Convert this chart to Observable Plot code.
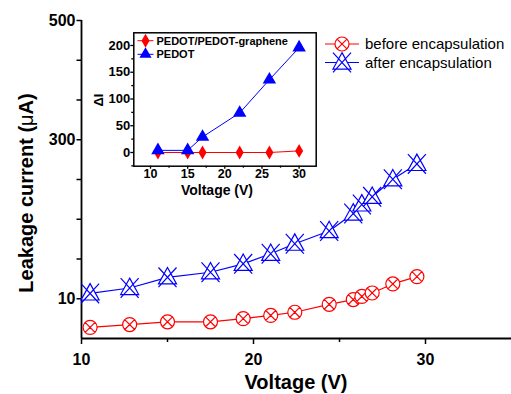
<!DOCTYPE html>
<html><head><meta charset="utf-8">
<script src="https://cdn.jsdelivr.net/npm/d3@7"></script>
<script src="https://cdn.jsdelivr.net/npm/@observablehq/plot@0.6"></script>
<style>
body{margin:0;background:#fff;}
#wrap{position:relative;width:511px;height:394px;font-family:"Liberation Sans",Arial,sans-serif;}
#wrap svg{overflow:visible;}
#inset{position:absolute;left:90px;top:25px;}
#main{position:absolute;left:0;top:0;}
</style></head><body><div id="wrap"><div id="main"></div><div id="inset"></div></div>
<script>
// ---- main chart data ----
const voltage = [10.5, 12.8, 15.0, 17.5, 19.4, 21.0, 22.4, 24.4, 25.8, 26.3, 26.9, 28.1, 29.5];
const beforeEnc = [6.4, 6.75, 7.1, 7.1, 7.5, 7.9, 8.3, 9.3, 9.9, 14.2, 20.5, 37.0, 50.4];
const afterEnc = [19.7, 29.6, 49.1, 58.3, 73.7, 92.0, 110.4, 133.5, 165.5, 182.0, 195.9, 227.9, 255.9];
const seriesNames = ["before encapsulation", "after encapsulation"];
const yTicks = [10, 82.5, 155, 227.5, 300, 366.7, 433.3, 500];
const yTickLabels = ["10", "", "", "", "300", "", "", "500"];
const xMajorTicks = [10, 20, 30];
const xMinorTicks = [15, 25];
// ---- inset data ----
const insetVoltage = [11, 15, 17, 22, 26, 30];
const insetGraphene = [0, 0, 0, 0, 0, 3];
const insetPedot = [4, 4, 29, 74, 136, 196];
const insetNames = ["PEDOT/PEDOT-graphene", "PEDOT"];
const insetYTicks = [0, 50, 100, 150, 200];
const insetYMinor = [-25, 25, 75, 125, 175];
const insetXTicks = [10, 15, 20, 25, 30];
const insetXMinor = [12.5, 17.5, 22.5, 27.5];

const RED = "#ff0000", BLUE = "#0000ff";
const FONT = "'Liberation Sans', Arial, sans-serif";

const mainData = voltage.map((v, i) => ({v, before: beforeEnc[i], after: afterEnc[i]}));
const insetData = insetVoltage.map((v, i) => ({v, g: insetGraphene[i], p: insetPedot[i]}));
const yTickData = yTicks.map((t, i) => ({t, label: yTickLabels[i]}));

// the original axis is irregular: piecewise mapping of the labelled values onto tick intervals
const yWarp = d3.scaleLinear().domain([5, 10, 300, 500]).range([0, 1, 5, 8]);

const circleX = {draw(ctx, size) {
  const r = Math.sqrt(size / Math.PI);
  ctx.moveTo(r, 0); ctx.arc(0, 0, r, 0, 2 * Math.PI);
  const k = r * Math.SQRT1_2;
  ctx.moveTo(-k, -k); ctx.lineTo(k, k);
  ctx.moveTo(k, -k); ctx.lineTo(-k, k);
}};
const triX = {draw(ctx, size) {
  const r = Math.sqrt(size / Math.PI);
  const h = 1.2 * r, w = 1.1 * r;
  ctx.moveTo(0, -h); ctx.lineTo(w, 0.8 * r); ctx.lineTo(-w, 0.8 * r); ctx.closePath();
  ctx.moveTo(-w, -h); ctx.lineTo(w, h);
  ctx.moveTo(w, -h); ctx.lineTo(-w, h);
}};
// short outward tick (to the left) for the irregular y axis
const leftTick = {draw(ctx) { ctx.moveTo(-5, 0); ctx.lineTo(0, 0); }};

const main = Plot.plot({
  width: 511, height: 394,
  marginLeft: 81, marginRight: 0, marginTop: 20, marginBottom: 56,
  style: {fontFamily: FONT, background: "transparent", fontWeight: "bold"},
  x: {domain: [10, 35]},
  y: {transform: yWarp, domain: [0, 8], axis: null},
  marks: [
    Plot.axisX({ticks: xMajorTicks, tickSize: 6, tickPadding: 9, fontSize: 16, fontWeight: "bold", label: null, strokeWidth: 1.5}),
    Plot.axisX({ticks: xMinorTicks, tickSize: 4, text: null, label: null, strokeWidth: 1.5}),
    Plot.dot(yTickData, {y: "t", frameAnchor: "left", symbol: leftTick, r: 3, stroke: "#000", strokeWidth: 1.5}),
    Plot.text(yTickData, {y: "t", text: "label", frameAnchor: "left", textAnchor: "end", dx: -6,
      fontSize: 16, fontWeight: "bold", fill: "#000"}),
    Plot.ruleX([10], {strokeWidth: 1.8}),
    Plot.ruleY([5], {strokeWidth: 1.8}),
    Plot.line(mainData, {x: "v", y: "before", stroke: RED, strokeWidth: 1.2}),
    Plot.dot(mainData, {x: "v", y: "before", r: 7, symbol: circleX, stroke: RED, fill: "white", strokeWidth: 1.2}),
    Plot.line(mainData, {x: "v", y: "after", stroke: BLUE, strokeWidth: 1.2}),
    Plot.dot(mainData, {x: "v", y: "after", r: 8.2, symbol: triX, stroke: BLUE, fill: "white", strokeWidth: 1.2})
  ]
});
document.getElementById("main").appendChild(main);

const ms = d3.select(main);
ms.append("text").attr("x", 296).attr("y", 389).attr("text-anchor", "middle")
  .attr("font-size", 20).attr("font-weight", "bold").attr("fill", "#000").text("Voltage (V)");
const yt = ms.append("text").attr("transform", "translate(26,193) rotate(-90)").attr("text-anchor", "middle")
  .attr("dy", "0.35em").attr("font-size", 20).attr("font-weight", "bold").attr("fill", "#000");
yt.append("tspan").text("Leakage current (");
yt.append("tspan").attr("font-weight", "normal").text("μ");
yt.append("tspan").text("A)");

// main legend
const legendItems = [
  {name: seriesNames[0], color: RED, sym: circleX, r: 7, y: 44},
  {name: seriesNames[1], color: BLUE, sym: triX, r: 8.2, y: 62.5}
];
legendItems.forEach(it => {
  const g = ms.append("g");
  g.append("line").attr("x1", 325).attr("x2", 359).attr("y1", it.y).attr("y2", it.y)
    .attr("stroke", it.color).attr("stroke-width", 1.2);
  g.append("path").attr("d", d3.symbol(it.sym, Math.PI * it.r * it.r)())
    .attr("transform", `translate(342,${it.y})`).attr("fill", "white")
    .attr("stroke", it.color).attr("stroke-width", 1.2);
  g.append("text").attr("x", 365).attr("y", it.y).attr("dy", "0.35em").attr("font-size", 15)
    .attr("text-anchor", "start").attr("font-weight", "normal").attr("fill", "#000").text(it.name);
});

// ---- inset ----
const inset = Plot.plot({
  width: 240, height: 175,
  marginLeft: 43.3, marginRight: 14.3, marginTop: 7.3, marginBottom: 34.3,
  style: {fontFamily: FONT, background: "transparent", fontWeight: "bold"},
  x: {domain: [7.75, 32.3]},
  y: {domain: [-25.6, 223.7]},
  marks: [
    Plot.axisX({ticks: insetXTicks, tickSize: 3, tickPadding: 0, fontSize: 12.5, fontWeight: "bold", label: null, strokeWidth: 1.3}),
    Plot.axisX({ticks: insetXMinor, tickSize: 2, text: null, label: null, strokeWidth: 1.3}),
    Plot.axisY({ticks: insetYTicks, tickSize: 3, tickPadding: 0.5, fontSize: 13, fontWeight: "bold", label: null, strokeWidth: 1.3}),
    Plot.axisY({ticks: insetYMinor, tickSize: 2, text: null, label: null, strokeWidth: 1.3}),
    Plot.frame({stroke: "#000", strokeWidth: 1.5}),
    Plot.line(insetData, {x: "v", y: "g", stroke: RED, strokeWidth: 1}),
    Plot.dot(insetData, {x: "v", y: "g", r: 4.2, symbol: "diamond", fill: RED}),
    Plot.line(insetData, {x: "v", y: "p", stroke: BLUE, strokeWidth: 1}),
    Plot.dot(insetData, {x: "v", y: "p", r: 5, symbol: "triangle", fill: BLUE})
  ]
});
document.getElementById("inset").appendChild(inset);
const is = d3.select(inset);
is.append("text").attr("x", 127).attr("y", 169.5).attr("text-anchor", "middle")
  .attr("font-size", 14).attr("font-weight", "bold").attr("fill", "#000").text("Voltage (V)");
is.append("text").attr("transform", "translate(8,75) rotate(-90)").attr("text-anchor", "middle")
  .attr("dy", "0.35em").attr("font-size", 13).attr("font-weight", "bold").attr("fill", "#000").text("ΔI");
const insetLegend = [
  {name: insetNames[0], color: RED, sym: d3.symbolDiamond, r: 4.2, y: 15.7},
  {name: insetNames[1], color: BLUE, sym: d3.symbolTriangle, r: 4.5, y: 29.3}
];
insetLegend.forEach(it => {
  const g = is.append("g");
  g.append("line").attr("x1", 47.5).attr("x2", 63.5).attr("y1", it.y).attr("y2", it.y)
    .attr("stroke", it.color).attr("stroke-width", 1);
  g.append("path").attr("d", d3.symbol(it.sym, Math.PI * it.r * it.r)())
    .attr("transform", `translate(55.5,${it.y})`).attr("fill", it.color);
  g.append("text").attr("x", 66.5).attr("y", it.y).attr("dy", "0.35em").attr("font-size", 11)
    .attr("text-anchor", "start").attr("font-weight", "bold").attr("fill", "#000").text(it.name);
});
</script>
</body></html>
